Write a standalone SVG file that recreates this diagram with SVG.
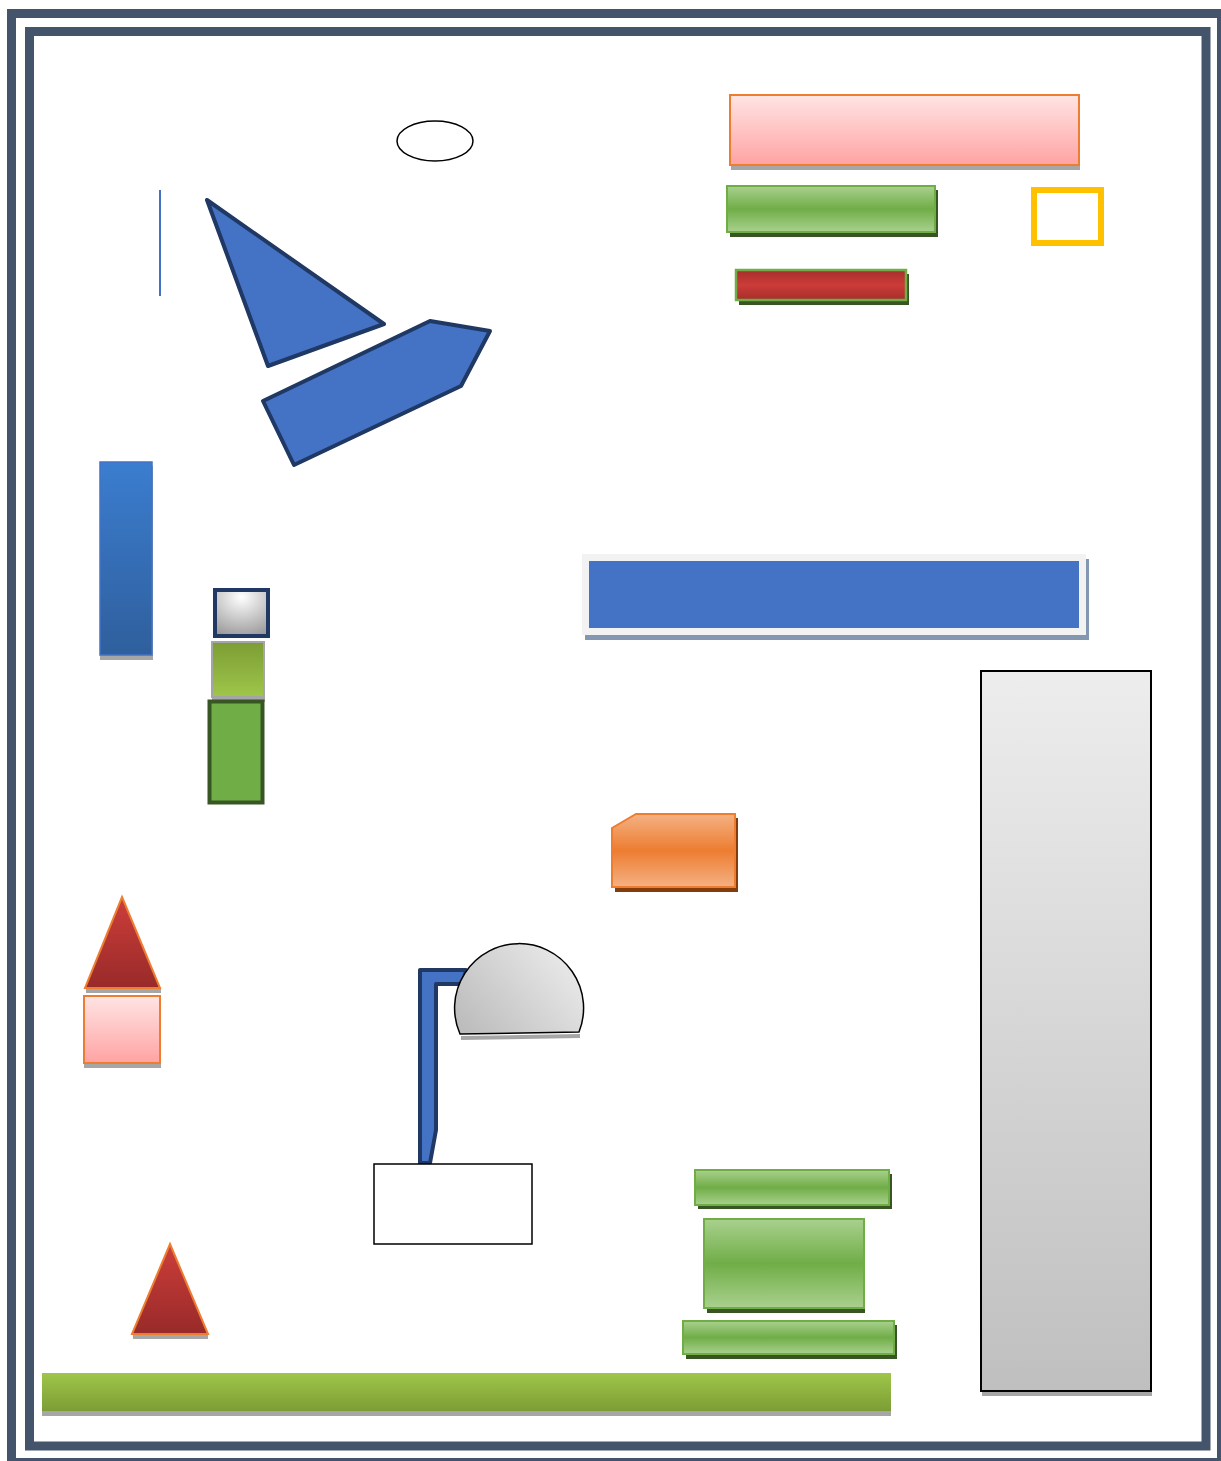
<svg xmlns="http://www.w3.org/2000/svg" width="1221" height="1461" viewBox="0 0 1221 1461">
<defs>
<linearGradient id="gPink" x1="0" y1="0" x2="0" y2="1"><stop offset="0" stop-color="#ffe4e4"/><stop offset="1" stop-color="#ffa3a3"/></linearGradient>
<linearGradient id="gGreen" x1="0" y1="0" x2="0" y2="1"><stop offset="0" stop-color="#a9d18e"/><stop offset="0.5" stop-color="#70ad47"/><stop offset="1" stop-color="#a9d18e"/></linearGradient>
<linearGradient id="gRed" x1="0" y1="0" x2="0" y2="1"><stop offset="0" stop-color="#a52e2c"/><stop offset="0.5" stop-color="#cc3c38"/><stop offset="1" stop-color="#a52e2c"/></linearGradient>
<linearGradient id="gRedTri" x1="0" y1="0" x2="0" y2="1"><stop offset="0" stop-color="#cd3e3a"/><stop offset="1" stop-color="#982a29"/></linearGradient>
<linearGradient id="gBlue" x1="0" y1="0" x2="0" y2="1"><stop offset="0" stop-color="#3b7dcf"/><stop offset="1" stop-color="#2f5f9d"/></linearGradient>
<linearGradient id="gOlive" x1="0" y1="0" x2="0" y2="1"><stop offset="0" stop-color="#7c9d35"/><stop offset="1" stop-color="#9fc64a"/></linearGradient>
<linearGradient id="gLime" x1="0" y1="0" x2="0" y2="1"><stop offset="0" stop-color="#9fc64a"/><stop offset="1" stop-color="#7c9d35"/></linearGradient>
<linearGradient id="gOrange" x1="0" y1="0" x2="0" y2="1"><stop offset="0" stop-color="#f4b183"/><stop offset="0.5" stop-color="#ed7d31"/><stop offset="1" stop-color="#f4b183"/></linearGradient>
<linearGradient id="gGrayTall" x1="0" y1="0" x2="0" y2="1"><stop offset="0" stop-color="#ededed"/><stop offset="1" stop-color="#bfbfbf"/></linearGradient>
<linearGradient id="gDome" x1="0" y1="0.8" x2="1" y2="0.2"><stop offset="0" stop-color="#bdbdbd"/><stop offset="1" stop-color="#ececec"/></linearGradient>
<radialGradient id="gSilver" cx="0.5" cy="0.15" r="0.9"><stop offset="0" stop-color="#ffffff"/><stop offset="1" stop-color="#9a9a9a"/></radialGradient>
<style>
.frame{fill:none;stroke:#44546a;stroke-width:9}
.shadow{fill:#a6a6a6}
.gshadow{fill:#375623}
.oshadow{fill:#843c0c}
.navy{fill:#4472c4;stroke:#1f3864;stroke-width:4;stroke-linejoin:round}
.greenbar{fill:url(#gGreen);stroke:#70ad47;stroke-width:2}
.pink{fill:url(#gPink);stroke:#ed7d31;stroke-width:2}
.redtri{fill:url(#gRedTri);stroke:#ed7d31;stroke-width:2}
</style>
</defs>
<rect width="1221" height="1461" fill="#ffffff"/>
<g id="frame">
<rect class="frame" x="11.5" y="13.5" width="1210" height="1449"/>
<rect class="frame" x="29.5" y="31.5" width="1176.5" height="1414.5"/>
</g>
<g id="connectors"></g>
<g id="ellipse"><ellipse cx="435" cy="141" rx="38" ry="20" fill="#ffffff" stroke="#000000" stroke-width="1.5"/></g>
<g id="line"><line x1="160" y1="190" x2="160" y2="296" stroke="#4472c4" stroke-width="2"/></g>
<g id="triangle"><polygon class="navy" points="207,200 384,324 268,366"/></g>
<g id="pentagon"><polygon class="navy" points="263,401 430,321 490,331 461,386 294,465"/></g>
<g id="pinkBar">
<rect class="shadow" x="731" y="100" width="349" height="70"/>
<rect class="pink" x="730" y="95" width="349" height="70"/>
</g>
<g id="greenBarTop">
<rect class="gshadow" x="730" y="190" width="208" height="47"/>
<rect class="greenbar" x="727" y="186" width="208" height="46"/>
</g>
<g id="yellowBox"><rect x="1034" y="190" width="67" height="53" fill="none" stroke="#ffc000" stroke-width="6"/></g>
<g id="redBar">
<rect class="gshadow" x="739" y="274" width="170" height="31"/>
<rect x="736" y="270" width="170" height="30" fill="url(#gRed)" stroke="#70ad47" stroke-width="2.5"/>
</g>
<g id="blueTall">
<rect class="shadow" x="100" y="466" width="53" height="194"/>
<rect x="100" y="462" width="52" height="193" fill="url(#gBlue)" stroke="#4472c4" stroke-width="1.5"/>
</g>
<g id="silverBox"><rect x="215" y="590" width="53" height="46" fill="url(#gSilver)" stroke="#1f3864" stroke-width="4"/></g>
<g id="oliveBox">
<rect class="shadow" x="212" y="646" width="53" height="56"/>
<rect x="212" y="642" width="52" height="55" fill="url(#gOlive)" stroke="#a5a5a5" stroke-width="2"/>
</g>
<g id="greenBox"><rect x="209.5" y="701.5" width="53" height="101" fill="#70ad47" stroke="#375623" stroke-width="4"/></g>
<g id="blueWide">
<rect x="585" y="559" width="504" height="81" fill="#8497b0"/>
<rect x="582" y="554" width="504" height="81" fill="#f2f2f2"/>
<rect x="589" y="561" width="490" height="67" fill="#4472c4"/>
</g>
<g id="grayTall">
<rect class="shadow" x="982" y="675" width="170" height="721"/>
<rect x="981" y="671" width="170" height="720" fill="url(#gGrayTall)" stroke="#000000" stroke-width="2"/>
</g>
<g id="orangeShape">
<polygon class="oshadow" points="615,832 639,818 738,818 738,892 615,892"/>
<polygon points="612,828 636,814 735,814 735,887 612,887" fill="url(#gOrange)" stroke="#ed7d31" stroke-width="2"/>
</g>
<g id="redTriangle1">
<rect class="shadow" x="86" y="988" width="75" height="5"/>
<polygon class="redtri" points="122,897 160,988 85,988"/>
</g>
<g id="pinkSquare">
<rect class="shadow" x="84" y="1000" width="77" height="68"/>
<rect class="pink" x="84" y="996" width="76" height="67"/>
</g>
<g id="redTriangle2">
<rect class="shadow" x="133" y="1334" width="75" height="5"/>
<polygon class="redtri" points="170,1244 208,1334 132,1334"/>
</g>
<g id="lampArm"><path class="navy" d="M420,970 L466,970 L463,984 L436,984 L436,1130 L430,1163 L420,1163 Z" stroke-width="4.5"/></g>
<g id="lampShade">
<path d="M461,1036 L580,1034 L580,1038 L461,1040 Z" fill="#a6a6a6"/>
<path d="M460,1034 A64.5,64.5 0 1 1 579,1032 Z" fill="url(#gDome)" stroke="#000000" stroke-width="1.5"/>
</g>
<g id="lampBase"><rect x="374" y="1164" width="158" height="80" fill="#ffffff" stroke="#000000" stroke-width="1.5"/></g>
<g id="greenBar1">
<rect class="gshadow" x="698" y="1174" width="194" height="35"/>
<rect class="greenbar" x="695" y="1170" width="194" height="35"/>
</g>
<g id="greenBar2">
<rect class="gshadow" x="707" y="1224" width="158" height="89"/>
<rect class="greenbar" x="704" y="1219" width="160" height="89"/>
</g>
<g id="greenBar3">
<rect class="gshadow" x="686" y="1325" width="211" height="34"/>
<rect class="greenbar" x="683" y="1321" width="211" height="33"/>
</g>
<g id="limeStrip">
<rect class="shadow" x="42" y="1377" width="849" height="39"/>
<rect x="42" y="1373" width="849" height="38" fill="url(#gLime)"/>
</g>
</svg>
